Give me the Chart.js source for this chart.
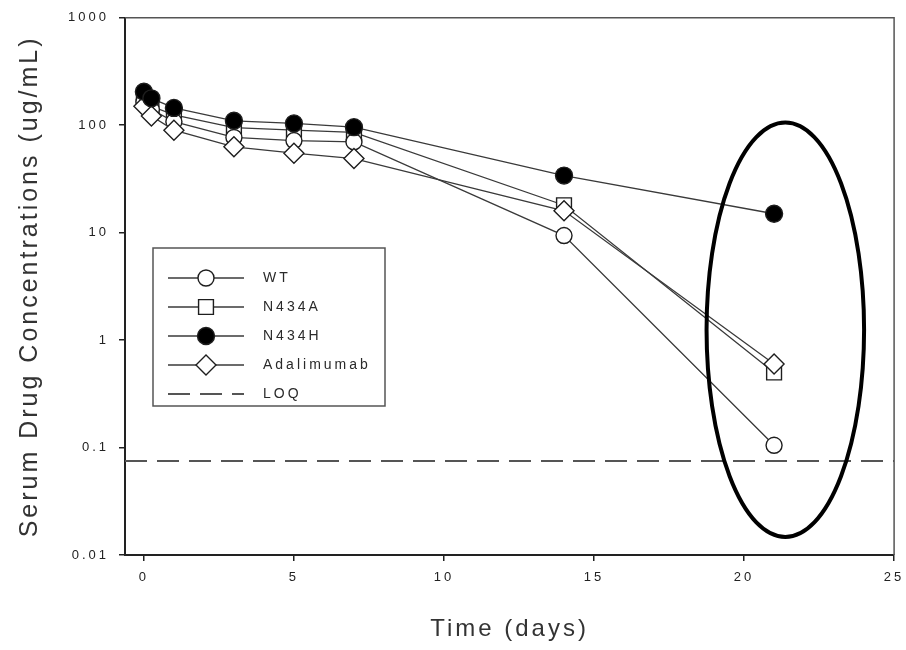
<!DOCTYPE html>
<html>
<head>
<meta charset="utf-8">
<script src="https://cdn.jsdelivr.net/npm/chart.js@4"></script>
<style>
  html, body { margin: 0; padding: 0; background: #fff; }
  #wrap { width: 906px; height: 650px; }
</style>
</head>
<body>
<div id="wrap"><canvas id="chart" width="906" height="650"></canvas></div>
<script>
// sampling times (days)
const days = [0, 0.25, 1, 3, 5, 7, 14, 21];

// serum concentrations (ug/mL)
const wt = [165, 140, 108, 77, 72, 70, 9.4, 0.105];
const n434a = [180, 150, 125, 95, 90, 86, 18, 0.5];
const n434h = [205, 178, 145, 110, 104, 96, 34, 15];
const adalimumab = [150, 122, 90, 63, 55, 49, 16, 0.6];

// limit of quantitation
const loqValue = 0.075;
const loqDays = [-0.63, 25];

const xTicks = [0, 5, 10, 15, 20, 25];
const yTicks = [0.01, 0.1, 1, 10, 100, 1000];

// highlight ellipse round day 21, in data units
const ellipseDays = [18.75, 24];
const ellipseConc = [0.0147, 106];

const lineColor = '#3a3a3a';
const markColor = '#1e1e1e';
const fontFamily = '"Liberation Sans", Arial, sans-serif';

function toPoints(values) {
  return values.map((v, i) => ({ x: days[i], y: v }));
}

// letter spacing like the original export
const spacingPlugin = {
  id: 'spacing',
  beforeLayout(chart) { chart.ctx.letterSpacing = '3px'; },
  beforeDraw(chart) { chart.ctx.letterSpacing = '3px'; }
};

// top/right frame + circled day-21 values
const framePlugin = {
  id: 'frame',
  afterDatasetsDraw(chart) {
    const { ctx, chartArea: a, scales } = chart;
    ctx.save();
    ctx.strokeStyle = '#555';
    ctx.lineWidth = 1.5;
    ctx.beginPath();
    ctx.moveTo(a.left, a.top);
    ctx.lineTo(a.right, a.top);
    ctx.lineTo(a.right, a.bottom);
    ctx.stroke();

    const x1 = scales.x.getPixelForValue(ellipseDays[0]);
    const x2 = scales.x.getPixelForValue(ellipseDays[1]);
    const y1 = scales.y.getPixelForValue(ellipseConc[1]);
    const y2 = scales.y.getPixelForValue(ellipseConc[0]);
    ctx.strokeStyle = '#000';
    ctx.lineWidth = 4;
    ctx.beginPath();
    ctx.ellipse((x1 + x2) / 2, (y1 + y2) / 2, (x2 - x1) / 2, (y2 - y1) / 2, 0, 0, Math.PI * 2);
    ctx.stroke();
    ctx.restore();
  }
};

function drawMarker(ctx, style, r, x, y, fill) {
  ctx.beginPath();
  if (style === 'circle') {
    ctx.arc(x, y, r, 0, Math.PI * 2);
  } else if (style === 'rect') {
    const s = r * Math.SQRT1_2;
    ctx.rect(x - s, y - s, 2 * s, 2 * s);
  } else if (style === 'rectRot') {
    ctx.moveTo(x - r, y);
    ctx.lineTo(x, y - r);
    ctx.lineTo(x + r, y);
    ctx.lineTo(x, y + r);
    ctx.closePath();
  }
  ctx.fillStyle = fill;
  ctx.fill();
  ctx.stroke();
}

// legend box inside the plot
const legendPlugin = {
  id: 'boxLegend',
  afterDraw(chart) {
    const ctx = chart.ctx;
    const box = { left: 153, top: 248, width: 232, height: 158 };
    ctx.save();
    ctx.fillStyle = '#fff';
    ctx.fillRect(box.left, box.top, box.width, box.height);
    ctx.strokeStyle = '#555';
    ctx.lineWidth = 1.5;
    ctx.strokeRect(box.left, box.top, box.width, box.height);

    chart.data.datasets.forEach((ds, i) => {
      const y = box.top + 30 + i * 29;
      ctx.strokeStyle = ds.borderColor;
      ctx.lineWidth = ds.borderDash ? ds.borderWidth : 1.5;
      ctx.setLineDash(ds.borderDash || []);
      ctx.beginPath();
      ctx.moveTo(168, y);
      ctx.lineTo(244, y);
      ctx.stroke();
      ctx.setLineDash([]);
      if (ds.pointRadius > 0) {
        ctx.strokeStyle = markColor;
        ctx.lineWidth = 1.4;
        drawMarker(ctx, ds.pointStyle, ds.pointRadius, 206, y, ds.pointBackgroundColor);
      }
      ctx.fillStyle = '#2a2a2a';
      ctx.font = '14px ' + fontFamily;
      ctx.textBaseline = 'middle';
      ctx.textAlign = 'left';
      ctx.fillText(ds.label, 263, y);
    });
    ctx.restore();
  }
};

function series(label, values, style, radius, fill, order) {
  return {
    label: label,
    data: toPoints(values),
    borderColor: lineColor,
    borderWidth: 1.3,
    pointStyle: style,
    pointRadius: radius,
    pointHoverRadius: radius,
    pointBackgroundColor: fill,
    pointBorderColor: markColor,
    pointBorderWidth: 1.4,
    tension: 0,
    order: order
  };
}

new Chart(document.getElementById('chart'), {
  type: 'line',
  data: {
    datasets: [
      series('WT', wt, 'circle', 8, '#fff', 2),
      series('N434A', n434a, 'rect', 10.5, '#fff', 3),
      series('N434H', n434h, 'circle', 8.5, '#000', 0),
      series('Adalimumab', adalimumab, 'rectRot', 10, '#fff', 1),
      {
        label: 'LOQ',
        data: loqDays.map(d => ({ x: d, y: loqValue })),
        borderColor: '#555',
        borderWidth: 2.2,
        borderDash: [22, 10],
        pointRadius: 0,
        order: 5
      }
    ]
  },
  options: {
    responsive: false,
    animation: false,
    events: [],
    layout: { padding: { top: 17, right: 6, left: 0, bottom: 0 } },
    plugins: {
      legend: { display: false },
      tooltip: { enabled: false }
    },
    scales: {
      x: {
        type: 'linear',
        min: loqDays[0],
        max: 25,
        afterBuildTicks: s => { s.ticks = xTicks.map(v => ({ value: v })); },
        afterFit: s => { s.height = 95; s.paddingRight = 0; s.paddingLeft = 0; },
        grid: { drawOnChartArea: false, drawTicks: true, tickLength: 6, color: '#222', lineWidth: 1.5 },
        border: { display: true, color: '#222', width: 2 },
        ticks: {
          color: '#222',
          padding: 9,
          maxRotation: 0,
          font: { family: fontFamily, size: 13 }
        },
        title: {
          display: true,
          text: 'Time (days)',
          color: '#333',
          padding: { top: 0, bottom: 6 },
          font: { family: fontFamily, size: 24 }
        }
      },
      y: {
        type: 'logarithmic',
        min: 0.01,
        max: 1000,
        afterBuildTicks: s => { s.ticks = yTicks.map(v => ({ value: v })); },
        afterFit: s => { s.width = 125; },
        grid: { drawOnChartArea: false, drawTicks: true, tickLength: 6, color: '#222', lineWidth: 1.5 },
        border: { display: true, color: '#222', width: 2 },
        ticks: {
          color: '#222',
          padding: 10,
          callback: v => String(v),
          font: { family: fontFamily, size: 13 }
        },
        title: {
          display: true,
          text: 'Serum Drug Concentrations (ug/mL)',
          color: '#333',
          padding: { top: 15, bottom: 0 },
          font: { family: fontFamily, size: 25 }
        }
      }
    }
  },
  plugins: [spacingPlugin, framePlugin, legendPlugin]
});
</script>
</body>
</html>
